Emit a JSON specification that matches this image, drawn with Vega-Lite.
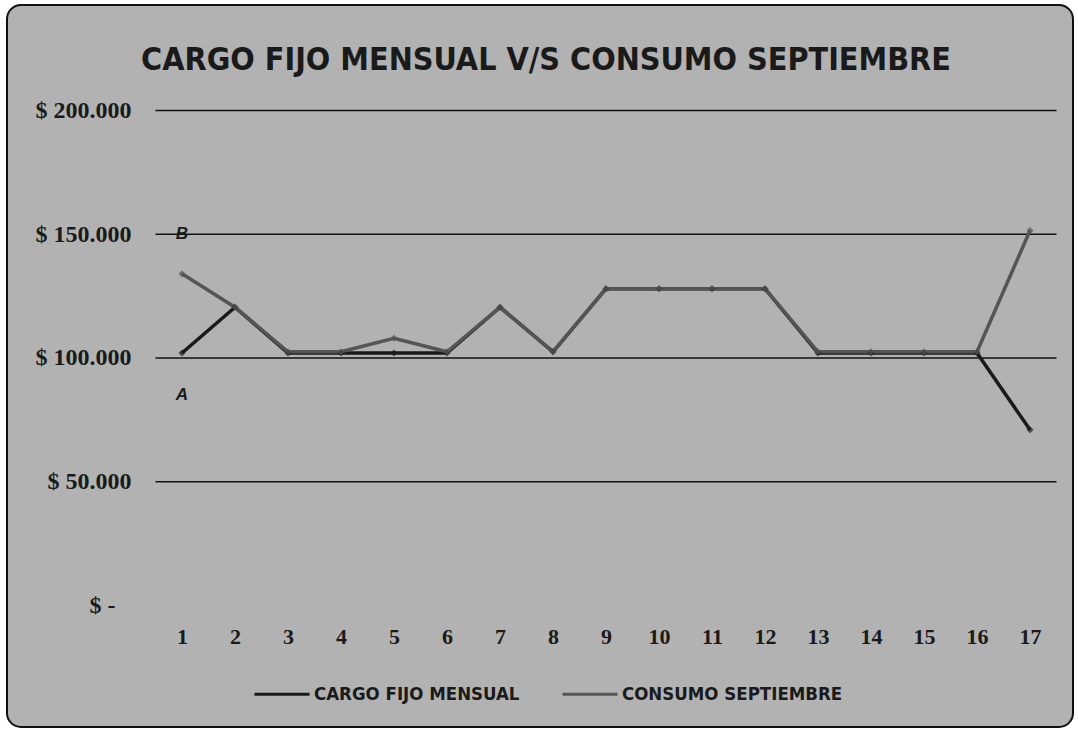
{
  "$schema": "https://vega.github.io/schema/vega-lite/v6.json",
  "autosize": {"type": "none"},
  "padding": {"left": 7, "top": 5, "right": 5, "bottom": 5},
  "width": 1066,
  "height": 722,
  "background": "white",
  "title": {
    "text": "CARGO FIJO MENSUAL V/S CONSUMO SEPTIEMBRE",
    "anchor": "middle",
    "offset": -72,
    "dx": 6,
    "font": "DejaVu Sans Condensed, Liberation Sans",
    "fontSize": 32,
    "fontWeight": "bold",
    "color": "#1a1a1a"
  },
  "config": {
    "view": {"fill": "#b2b2b2", "stroke": "#111111", "strokeWidth": 2, "cornerRadius": 14},
    "axis": {"domain": false, "ticks": false, "grid": false, "title": null}
  },
  "data": {
    "values": [
      {"n": 1, "serie": "CARGO FIJO MENSUAL", "valor": 102000},
      {"n": 2, "serie": "CARGO FIJO MENSUAL", "valor": 120500},
      {"n": 3, "serie": "CARGO FIJO MENSUAL", "valor": 102000},
      {"n": 4, "serie": "CARGO FIJO MENSUAL", "valor": 102000},
      {"n": 5, "serie": "CARGO FIJO MENSUAL", "valor": 102000},
      {"n": 6, "serie": "CARGO FIJO MENSUAL", "valor": 102000},
      {"n": 7, "serie": "CARGO FIJO MENSUAL", "valor": 120500},
      {"n": 8, "serie": "CARGO FIJO MENSUAL", "valor": 102500},
      {"n": 9, "serie": "CARGO FIJO MENSUAL", "valor": 128000},
      {"n": 10, "serie": "CARGO FIJO MENSUAL", "valor": 128000},
      {"n": 11, "serie": "CARGO FIJO MENSUAL", "valor": 128000},
      {"n": 12, "serie": "CARGO FIJO MENSUAL", "valor": 128000},
      {"n": 13, "serie": "CARGO FIJO MENSUAL", "valor": 102000},
      {"n": 14, "serie": "CARGO FIJO MENSUAL", "valor": 102000},
      {"n": 15, "serie": "CARGO FIJO MENSUAL", "valor": 102000},
      {"n": 16, "serie": "CARGO FIJO MENSUAL", "valor": 102000},
      {"n": 17, "serie": "CARGO FIJO MENSUAL", "valor": 71000},
      {"n": 1, "serie": "CONSUMO SEPTIEMBRE", "valor": 134000},
      {"n": 2, "serie": "CONSUMO SEPTIEMBRE", "valor": 120500},
      {"n": 3, "serie": "CONSUMO SEPTIEMBRE", "valor": 102500},
      {"n": 4, "serie": "CONSUMO SEPTIEMBRE", "valor": 102500},
      {"n": 5, "serie": "CONSUMO SEPTIEMBRE", "valor": 108000},
      {"n": 6, "serie": "CONSUMO SEPTIEMBRE", "valor": 102500},
      {"n": 7, "serie": "CONSUMO SEPTIEMBRE", "valor": 120500},
      {"n": 8, "serie": "CONSUMO SEPTIEMBRE", "valor": 102500},
      {"n": 9, "serie": "CONSUMO SEPTIEMBRE", "valor": 128000},
      {"n": 10, "serie": "CONSUMO SEPTIEMBRE", "valor": 128000},
      {"n": 11, "serie": "CONSUMO SEPTIEMBRE", "valor": 128000},
      {"n": 12, "serie": "CONSUMO SEPTIEMBRE", "valor": 128000},
      {"n": 13, "serie": "CONSUMO SEPTIEMBRE", "valor": 102500},
      {"n": 14, "serie": "CONSUMO SEPTIEMBRE", "valor": 102500},
      {"n": 15, "serie": "CONSUMO SEPTIEMBRE", "valor": 102500},
      {"n": 16, "serie": "CONSUMO SEPTIEMBRE", "valor": 102500},
      {"n": 17, "serie": "CONSUMO SEPTIEMBRE", "valor": 151500}
    ]
  },
  "layer": [
    {
      "data": {"values": [{"v": 50000}, {"v": 100000}, {"v": 150000}, {"v": 200000}]},
      "mark": {"type": "rule", "color": "#111111", "strokeWidth": 1.5},
      "encoding": {
        "y": {"field": "v", "type": "quantitative"},
        "x": {"datum": 0.5, "type": "quantitative"},
        "x2": {"datum": 17.5}
      }
    },
    {
      "mark": {"type": "line", "strokeWidth": 3.5},
      "encoding": {
        "x": {
          "field": "n", "type": "quantitative",
          "scale": {"domain": [-2.302, 17.811], "nice": false, "zero": false},
          "axis": {
            "orient": "bottom", "offset": -101, "labelPadding": 0,
            "values": [1,2,3,4,5,6,7,8,9,10,11,12,13,14,15,16,17],
            "format": "d", "labelFont": "Liberation Serif", "labelFontSize": 22,
            "labelFontWeight": "bold", "labelColor": "#1a1a1a", "labelFlush": false
          }
        },
        "y": {
          "field": "valor", "type": "quantitative",
          "scale": {"domain": [-49091, 242626], "nice": false, "zero": false},
          "axis": {
            "orient": "left", "offset": -124,
            "labelPadding": {"condition": {"test": "datum.value === 0", "value": 16}, "value": 0},
            "values": [0, 50000, 100000, 150000, 200000],
            "labelExpr": "datum.value == 0 ? '$ -' : '$ ' + format(datum.value / 1000, 'd') + '.000'",
            "labelFont": "Liberation Serif", "labelFontSize": 24, "labelFontWeight": "bold",
            "labelColor": "#1a1a1a", "labelFlush": false
          }
        },
        "color": {
          "field": "serie", "type": "nominal",
          "scale": {"domain": ["CARGO FIJO MENSUAL", "CONSUMO SEPTIEMBRE"], "range": ["#1a1a1a", "#555555"]},
          "legend": {
            "orient": "none", "legendX": 246, "legendY": 660, "direction": "horizontal",
            "title": null, "symbolType": "stroke", "symbolSize": 3025, "symbolStrokeWidth": 3,
            "labelFont": "DejaVu Sans Condensed, Liberation Sans", "labelFontSize": 18.5, "labelFontWeight": "bold",
            "labelColor": "#1a1a1a", "columnPadding": 36, "labelOffset": 3, "labelLimit": 400
          }
        }
      }
    },
    {
      "mark": {"type": "point", "shape": "diamond", "filled": true, "size": 50},
      "encoding": {
        "x": {"field": "n", "type": "quantitative"},
        "y": {"field": "valor", "type": "quantitative"},
        "color": {"field": "serie", "type": "nominal", "legend": null}
      }
    },
    {
      "data": {"values": [{"n": 1, "valor": 150000, "letra": "B"}, {"n": 1, "valor": 85000, "letra": "A"}]},
      "mark": {"type": "text", "font": "Liberation Sans", "fontSize": 17, "fontWeight": "bold", "fontStyle": "italic", "color": "#1a1a1a"},
      "encoding": {
        "x": {"field": "n", "type": "quantitative"},
        "y": {"field": "valor", "type": "quantitative"},
        "text": {"field": "letra"}
      }
    }
  ]
}
